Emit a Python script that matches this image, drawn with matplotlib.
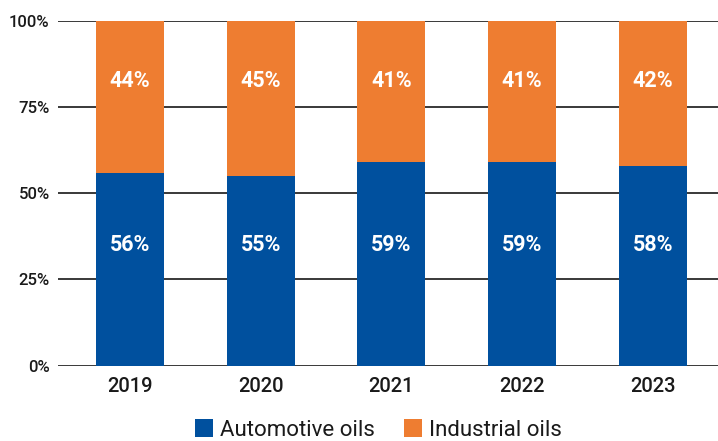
import matplotlib
matplotlib.use("Agg")
import matplotlib.pyplot as plt
import numpy as np

plt.rcParams['font.family'] = ['Roboto', 'DejaVu Sans']

years = ["2019", "2020", "2021", "2022", "2023"]
automotive = [56, 55, 59, 59, 58]
industrial = [44, 45, 41, 41, 42]
y_ticks = [0, 25, 50, 75, 100]
y_tick_labels = ["0%", "25%", "50%", "75%", "100%"]

BLUE = "#00509E"
ORANGE = "#EE7D31"

fig = plt.figure(figsize=(7.18, 4.41), dpi=100)
ax = fig.add_axes([58 / 718, 1 - 365.7 / 441, 1 - 58 / 718, (365.7 - 20.7) / 441])

x = np.arange(len(years))
width = 0.52
ax.bar(x, automotive, width, color=BLUE, zorder=3, label="Automotive oils")
ax.bar(x, industrial, width, bottom=automotive, color=ORANGE, zorder=3,
       label="Industrial oils")

# value labels at a common height inside each segment
for xi, a, b in zip(x, automotive, industrial):
    ax.text(xi, 35, f"{a}%", ha="center", va="center", color="white",
            fontsize=15.5, fontweight="bold", zorder=4)
    ax.text(xi, 82.5, f"{b}%", ha="center", va="center", color="white",
            fontsize=15.5, fontweight="bold", zorder=4)

ax.set_xlim(-0.55, 4.5)
ax.set_ylim(0, 100)
ax.set_yticks(y_ticks)
ax.set_yticklabels(y_tick_labels)
ax.set_xticks(x)
ax.set_xticklabels(years)
ax.tick_params(axis="y", length=0, pad=6, labelsize=12, colors="#1a1a1a")
ax.tick_params(axis="x", length=0, pad=8, labelsize=14.5, colors="#1a1a1a")
for lab in ax.get_yticklabels() + ax.get_xticklabels():
    lab.set_fontweight("medium")

ax.grid(axis="y", color="#2a2a2a", linewidth=1.3, zorder=0)
ax.set_axisbelow(True)
for s in ax.spines.values():
    s.set_visible(False)

leg = fig.legend(loc="lower center", bbox_to_anchor=(0.527, -0.045), ncol=2,
                 frameon=False, fontsize=16, handlelength=0.82, handleheight=0.82,
                 handletextpad=0.3, columnspacing=1.3)
for t in leg.get_texts():
    t.set_color("#1a1a1a")

fig.savefig("out.png", dpi=100)
